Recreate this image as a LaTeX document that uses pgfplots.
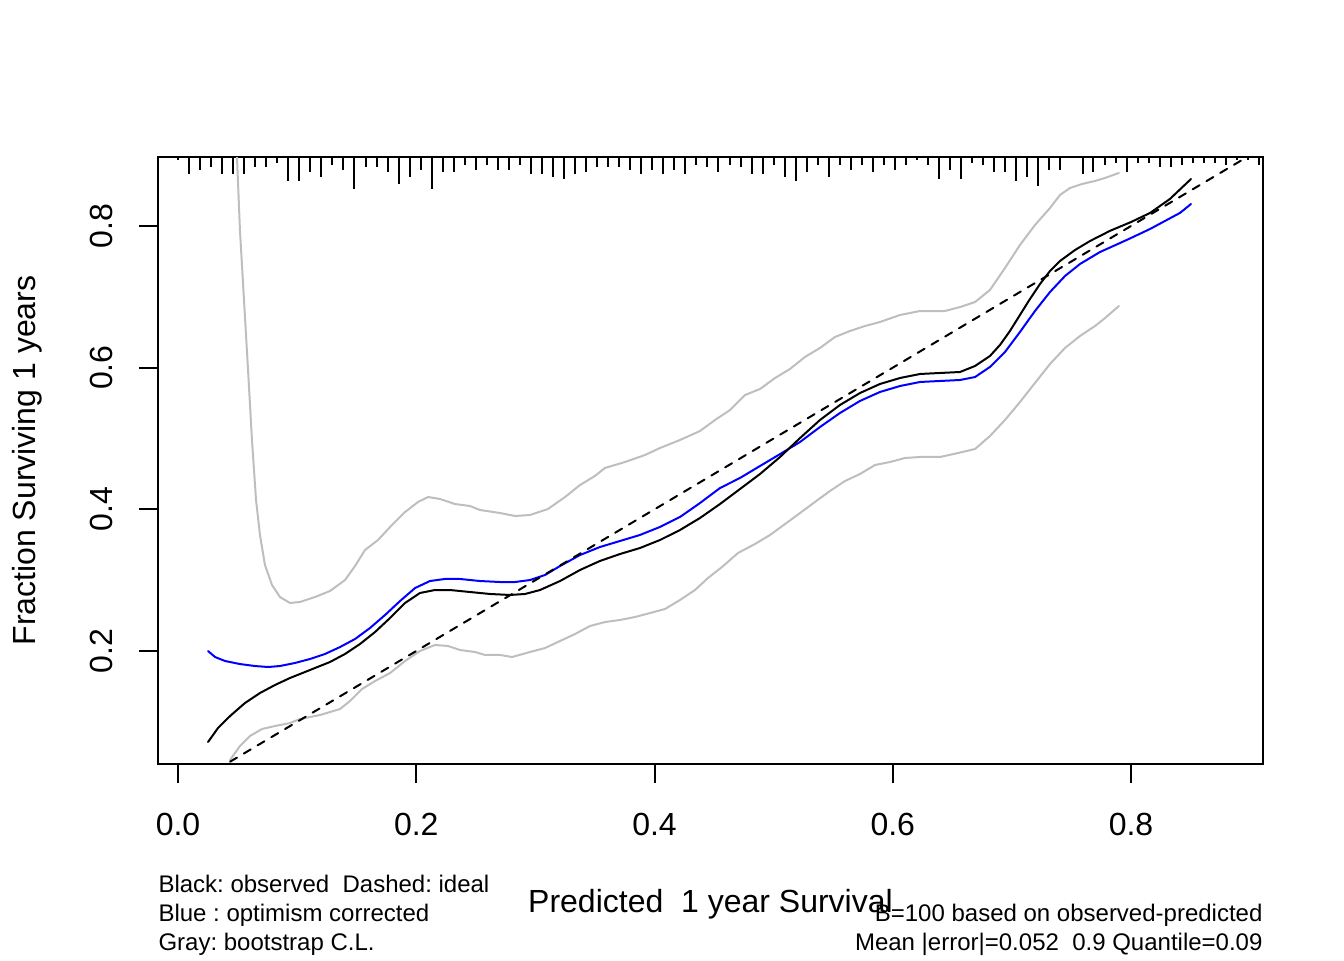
\documentclass[border=0pt]{standalone}
\usepackage{fontspec}
\setmainfont{Liberation Sans}
\usepackage{pgfplots}
\usepackage{pgfplotstable}
\pgfplotsset{compat=1.18}
\definecolor{rgray}{HTML}{BEBEBE}
\definecolor{rblue}{HTML}{0000FF}

\pgfplotstableread{
x y
0.0252 0.0715
0.0336 0.0913
0.0437 0.1082
0.0562 0.1266
0.0688 0.1407
0.0814 0.1520
0.0940 0.1619
0.1108 0.1732
0.1276 0.1845
0.1402 0.1958
0.1528 0.2099
0.1654 0.2268
0.1780 0.2466
0.1906 0.2678
0.2031 0.2819
0.2157 0.2861
0.2283 0.2861
0.2451 0.2833
0.2619 0.2805
0.2787 0.2791
0.2913 0.2805
0.3039 0.2861
0.3207 0.2988
0.3375 0.3144
0.3542 0.3271
0.3710 0.3369
0.3878 0.3454
0.4046 0.3567
0.4214 0.3708
0.4382 0.3878
0.4550 0.4075
0.4718 0.4287
0.4886 0.4499
0.5054 0.4739
0.5222 0.5007
0.5389 0.5261
0.5557 0.5473
0.5725 0.5642
0.5893 0.5770
0.6061 0.5854
0.6229 0.5911
0.6397 0.5925
0.6565 0.5939
0.6691 0.6024
0.6816 0.6165
0.6900 0.6320
0.6984 0.6518
0.7068 0.6744
0.7152 0.6970
0.7236 0.7181
0.7320 0.7365
0.7404 0.7506
0.7530 0.7661
0.7656 0.7788
0.7824 0.7932
0.8000 0.8056
0.8160 0.8184
0.8327 0.8382
0.8504 0.8664
}\observedtab

\pgfplotstableread{
x y
0.0252 0.2000
0.0311 0.1915
0.0395 0.1859
0.0520 0.1816
0.0646 0.1788
0.0756 0.1774
0.0856 0.1788
0.0982 0.1831
0.1108 0.1887
0.1234 0.1958
0.1360 0.2056
0.1486 0.2169
0.1612 0.2325
0.1738 0.2508
0.1864 0.2706
0.1990 0.2889
0.2115 0.2988
0.2241 0.3017
0.2367 0.3017
0.2535 0.2988
0.2703 0.2974
0.2829 0.2974
0.2955 0.3002
0.3081 0.3073
0.3207 0.3200
0.3375 0.3355
0.3542 0.3468
0.3710 0.3553
0.3878 0.3638
0.4046 0.3751
0.4214 0.3892
0.4382 0.4089
0.4550 0.4301
0.4718 0.4443
0.4886 0.4612
0.5054 0.4780
0.5222 0.4951
0.5389 0.5162
0.5557 0.5360
0.5725 0.5530
0.5893 0.5657
0.6061 0.5741
0.6229 0.5798
0.6397 0.5812
0.6565 0.5826
0.6691 0.5868
0.6816 0.6010
0.6942 0.6221
0.7068 0.6504
0.7194 0.6800
0.7320 0.7068
0.7446 0.7294
0.7572 0.7464
0.7740 0.7633
0.7908 0.7760
0.8000 0.7831
0.8160 0.7958
0.8285 0.8071
0.8411 0.8184
0.8504 0.8311
}\correctedtab

\pgfplotstableread{
x y
0.0470 0.9779
0.0495 0.8974
0.0520 0.7944
0.0554 0.6955
0.0588 0.5967
0.0621 0.4979
0.0655 0.4132
0.0688 0.3638
0.0730 0.3214
0.0789 0.2932
0.0856 0.2762
0.0940 0.2678
0.1024 0.2692
0.1150 0.2762
0.1276 0.2847
0.1402 0.3002
0.1486 0.3200
0.1570 0.3426
0.1679 0.3567
0.1796 0.3779
0.1906 0.3962
0.2015 0.4104
0.2099 0.4174
0.2199 0.4146
0.2325 0.4075
0.2451 0.4047
0.2535 0.3991
0.2703 0.3948
0.2829 0.3906
0.2955 0.3920
0.3106 0.4005
0.3249 0.4174
0.3375 0.4344
0.3500 0.4471
0.3584 0.4584
0.3752 0.4668
0.3920 0.4767
0.4046 0.4866
0.4214 0.4979
0.4382 0.5106
0.4508 0.5261
0.4634 0.5402
0.4760 0.5614
0.4886 0.5699
0.5012 0.5854
0.5137 0.5981
0.5263 0.6151
0.5389 0.6278
0.5515 0.6433
0.5641 0.6518
0.5767 0.6588
0.5893 0.6645
0.6061 0.6744
0.6229 0.6800
0.6438 0.6800
0.6565 0.6856
0.6691 0.6927
0.6816 0.7097
0.6942 0.7407
0.7068 0.7732
0.7194 0.8014
0.7320 0.8254
0.7404 0.8438
0.7488 0.8537
0.7589 0.8593
0.7698 0.8636
0.7782 0.8678
0.7899 0.8749
}\uppertab

\pgfplotstableread{
x y
0.0437 0.0461
0.0520 0.0659
0.0604 0.0800
0.0705 0.0899
0.0814 0.0941
0.0940 0.0983
0.1024 0.1040
0.1192 0.1096
0.1360 0.1181
0.1444 0.1294
0.1545 0.1464
0.1654 0.1576
0.1780 0.1689
0.1906 0.1859
0.2031 0.2000
0.2157 0.2085
0.2266 0.2071
0.2367 0.2014
0.2493 0.1986
0.2577 0.1944
0.2703 0.1944
0.2804 0.1915
0.2955 0.1986
0.3081 0.2042
0.3207 0.2141
0.3333 0.2240
0.3459 0.2353
0.3584 0.2409
0.3710 0.2438
0.3836 0.2480
0.3962 0.2536
0.4088 0.2593
0.4214 0.2720
0.4340 0.2861
0.4449 0.3031
0.4567 0.3186
0.4701 0.3384
0.4844 0.3511
0.4970 0.3638
0.5096 0.3793
0.5222 0.3948
0.5347 0.4104
0.5473 0.4259
0.5599 0.4400
0.5725 0.4499
0.5851 0.4626
0.5977 0.4668
0.6103 0.4725
0.6229 0.4739
0.6397 0.4739
0.6548 0.4795
0.6691 0.4852
0.6816 0.5035
0.6942 0.5261
0.7068 0.5515
0.7194 0.5784
0.7320 0.6052
0.7446 0.6278
0.7572 0.6447
0.7698 0.6588
0.7782 0.6701
0.7899 0.6871
}\lowertab

\pgfplotstableread{
x len
0.0000 3
0.0093 17.3
0.0185 13
0.0278 10.3
0.0370 17.3
0.0463 17.3
0.0556 17.3
0.0648 10.3
0.0741 10.3
0.0833 5.7
0.0926 24.3
0.1019 24.3
0.1111 15
0.1204 19.7
0.1296 8
0.1389 13
0.1481 31.7
0.1574 10.3
0.1667 10.3
0.1759 15
0.1852 27
0.1944 19.7
0.2037 13
0.2130 31.7
0.2222 15
0.2315 15
0.2407 8
0.2500 13
0.2593 8
0.2685 13
0.2778 13
0.2870 8
0.2963 17.3
0.3056 17.3
0.3148 19.7
0.3241 22.3
0.3333 17.3
0.3426 15
0.3519 10.3
0.3611 10.3
0.3704 10.3
0.3796 13
0.3889 17.3
0.3981 13
0.4074 17.3
0.4167 13
0.4259 17.3
0.4352 8
0.4444 10.3
0.4537 15
0.4630 8
0.4722 10.3
0.4815 17.3
0.4907 17.3
0.5000 8
0.5093 19.7
0.5185 24.3
0.5278 15
0.5370 8
0.5463 19.7
0.5556 8
0.5648 13
0.5741 8
0.5833 15
0.5926 8
0.6019 13
0.6111 8
0.6204 3
0.6296 8
0.6389 22.3
0.6481 13
0.6574 22.3
0.6667 5.7
0.6759 8
0.6852 15
0.6944 15
0.7037 24.3
0.7130 19.7
0.7222 29.3
0.7315 13
0.7407 13
0.7593 17.3
0.7685 15
0.7778 8
0.7870 5.7
0.7963 15
0.8056 5.7
0.8148 5.7
0.8241 10.3
0.8333 10.3
0.8426 8
0.8519 5.7
0.8611 5.7
0.8704 5.7
0.8796 8
0.8889 3
0.8981 3
0.9074 8
}\rugtab

\begin{document}
\frenchspacing
\begin{tikzpicture}[x=1pt,y=1pt]
\path[use as bounding box] (0,0) rectangle (504,360);
\begin{axis}[
  at={(59.25pt,73.5pt)}, anchor=south west,
  scale only axis, width=414.375pt, height=227.625pt,
  xmin=-0.01679, xmax=0.91081, ymin=0.04047, ymax=0.89741,
  axis line style={line width=0.75pt},
  tick style={line width=0.75pt, black},
  tick align=outside, major tick length=7.2pt,
  xtick={0,0.2,0.4,0.6,0.8}, xticklabels={0.0,0.2,0.4,0.6,0.8},
  ytick={0.2,0.4,0.6,0.8}, yticklabels={0.2,0.4,0.6,0.8},
  xtick pos=bottom, ytick pos=left,
  minor tick num=0,
  tick label style={font=\fontsize{12}{14}\selectfont, inner sep=0pt},
  xticklabel style={anchor=base, yshift=-19.425pt},
  yticklabel style={anchor=base, xshift=-10.05pt, rotate=90},
  every axis plot/.append style={line width=0.75pt, line join=round, line cap=round},
]
\addplot[rgray, mark=none] table[x=x,y=y] {\uppertab};
\addplot[rgray, mark=none] table[x=x,y=y] {\lowertab};
\addplot[rblue, mark=none] table[x=x,y=y] {\correctedtab};
\addplot[black, mark=none] table[x=x,y=y] {\observedtab};
\addplot[black, mark=none, dash pattern=on 3pt off 3pt] coordinates {(0.0437,0.0437) (0.95,0.95)};
\end{axis}
\begin{axis}[
  at={(59.25pt,73.5pt)}, anchor=south west,
  scale only axis, width=414.375pt, height=227.625pt,
  xmin=-0.01679, xmax=0.91081, ymin=0, ymax=607, y dir=reverse,
  hide axis, clip=false,
]
\addplot[ycomb, black, mark=none, line width=0.75pt] table[x=x,y=len] {\rugtab};
\end{axis}
\begin{scope}[every node/.style={inner sep=0pt}]
\node[anchor=base, font=\fontsize{12}{14}\selectfont] at (266.44,18) {Predicted\ \ 1 year Survival};
\node[anchor=base, rotate=90, font=\fontsize{12}{14}\selectfont] at (13.2,187.3) {Fraction Surviving 1 years};
\node[anchor=base west, font=\fontsize{9}{11}\selectfont] at (59.25,25.5) {Black: observed\ \ Dashed: ideal};
\node[anchor=base west, font=\fontsize{9}{11}\selectfont] at (59.25,14.625) {Blue : optimism corrected};
\node[anchor=base west, font=\fontsize{9}{11}\selectfont] at (59.25,3.75) {Gray: bootstrap C.L.};
\node[anchor=base east, font=\fontsize{9}{11}\selectfont] at (473.625,14.625) {B=100 based on observed-predicted};
\node[anchor=base east, font=\fontsize{9}{11}\selectfont] at (473.625,3.75) {Mean |error|=0.052\ \ 0.9 Quantile=0.09};
\end{scope}
\end{tikzpicture}
\end{document}
